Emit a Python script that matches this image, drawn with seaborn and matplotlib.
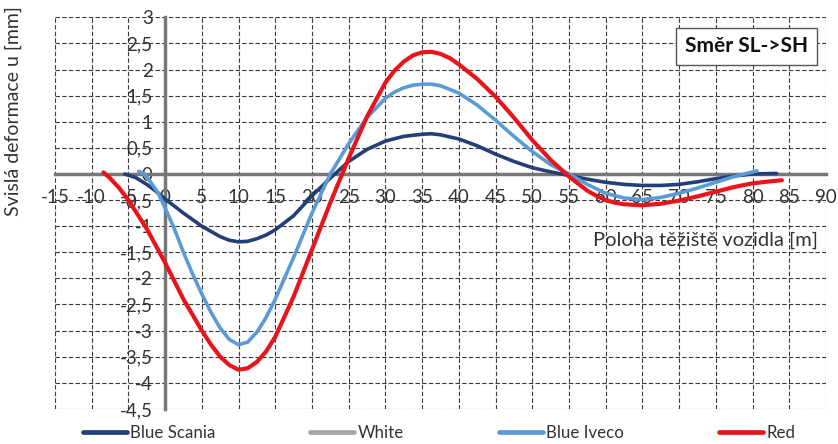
import numpy as np
import pandas as pd
import matplotlib
matplotlib.use("Agg")
import matplotlib.pyplot as plt
from matplotlib.lines import Line2D
from matplotlib.ticker import FuncFormatter
import seaborn as sns

# Values
scania_x = [-5.5, -4, -2.5, -1.25, 0, 2.5, 5, 6.25, 7.5, 8.75, 10, 11.25, 12.5, 13.75, 15, 17.5, 20,
            22.5, 25, 27.5, 30, 32.5, 35, 36.25, 37.5, 40, 42.5, 45, 47.5, 50, 52.5, 55, 57.5,
            60, 62.5, 65, 67.5, 70, 72.5, 75, 77.5, 80, 83.3]
scania_y = [0.0, -0.07, -0.2, -0.33, -0.48, -0.75, -1.0, -1.1, -1.2, -1.27, -1.3, -1.29, -1.24,
            -1.17, -1.07, -0.8, -0.42, -0.08, 0.24, 0.47, 0.63, 0.72, 0.76, 0.77, 0.75, 0.67,
            0.54, 0.38, 0.24, 0.12, 0.04, -0.03, -0.1, -0.16, -0.2, -0.22, -0.22, -0.2, -0.15,
            -0.09, -0.04, 0.0, 0.01]

iveco_x = [-3.6, -2.8, -2, -1, 0, 1.25, 2.5, 3.75, 5, 6.25, 7.5, 8.75, 10, 11.25, 12.5, 13.75, 15,
           17.5, 20, 22.5, 25, 27.5, 30, 31.25, 32.5, 33.75, 35, 36.25, 37.5, 40, 42.5, 45, 47.5,
           50, 52.5, 55, 57.5, 60, 62.5, 65, 67.5, 70, 72.5, 75, 77.5, 80.6]
iveco_y = [0.05, 0.0, -0.15, -0.35, -0.65, -1.05, -1.5, -1.92, -2.3, -2.65, -2.95, -3.17, -3.27,
           -3.22, -3.03, -2.75, -2.4, -1.6, -0.75, 0.0, 0.58, 1.08, 1.45, 1.57, 1.65, 1.7, 1.72,
           1.72, 1.69, 1.55, 1.32, 1.03, 0.72, 0.43, 0.18, 0.0, -0.2, -0.37, -0.46, -0.49, -0.45,
           -0.37, -0.27, -0.16, -0.05, 0.06]

red_x = [-8.4, -7.5, -6.25, -5, -2.5, 0, 2.5, 5, 6.25, 7.5, 8.75, 10, 11.25, 12.5, 13.75, 15,
         17.5, 20, 22.5, 25, 27.5, 30, 31.25, 32.5, 33.75, 35, 36.25, 37.5, 38.75, 40, 42.5, 45,
         47.5, 50, 52.5, 55, 57.5, 58.75, 60, 61.25, 62.5, 65, 67.5, 70, 72.5, 75, 77.5, 80,
         82.5, 84]
red_y = [0.03, -0.08, -0.27, -0.5, -1.05, -1.7, -2.4, -3.0, -3.27, -3.5, -3.66, -3.75, -3.72,
         -3.6, -3.4, -3.12, -2.35, -1.45, -0.55, 0.3, 1.1, 1.75, 1.98, 2.15, 2.27, 2.33, 2.34,
         2.3, 2.22, 2.1, 1.82, 1.48, 1.08, 0.65, 0.27, -0.05, -0.32, -0.42, -0.5, -0.55, -0.58,
         -0.6, -0.57, -0.51, -0.43, -0.34, -0.25, -0.18, -0.14, -0.12]

series_names = ["Blue Scania", "White", "Blue Iveco", "Red"]
series_colors = ["#233f78", "#a5a5a5", "#5b9bd5", "#e8141b"]
series_widths = [2.6, 2.6, 2.6, 3.0]

x_ticks = np.arange(-15, 91, 5)
y_ticks = np.arange(-4.5, 3.01, 0.5)

df = pd.concat([
    pd.DataFrame({"x": scania_x, "y": scania_y, "serie": "Blue Scania"}),
    pd.DataFrame({"x": iveco_x, "y": iveco_y, "serie": "Blue Iveco"}),
    pd.DataFrame({"x": red_x, "y": red_y, "serie": "Red"}),
])

sns.set_theme(style="white")
plt.rcParams['font.family'] = ['Lato', 'DejaVu Sans']
plt.rcParams['axes.unicode_minus'] = False

fig = plt.figure(figsize=(8.38, 4.44), dpi=100)
ax = fig.add_axes([0.0656, 0.079, 0.92, 0.882])

palette = dict(zip(series_names, series_colors))
for name, lw in zip(series_names, series_widths):
    sub = df[df["serie"] == name]
    if len(sub) == 0:
        continue
    sns.lineplot(data=sub, x="x", y="y", color=palette[name], lw=lw, sort=False,
                 estimator=None, legend=False, ax=ax, zorder=3,
                 solid_joinstyle="round", solid_capstyle="round")

ax.set_xlim(-15, 90)
ax.set_ylim(-4.5, 3)
ax.set_xticks(x_ticks)
ax.set_yticks(y_ticks)

comma = FuncFormatter(lambda v, p: ("%g" % v).replace(".", ","))
ax.xaxis.set_major_formatter(comma)
ax.yaxis.set_major_formatter(comma)

# Dashed grid
ax.grid(True, color="#3a3a3a", lw=0.8, ls=(0, (4, 2)))

# Axes crossing at origin
for s in ["top", "right"]:
    ax.spines[s].set_visible(False)
ax.spines["left"].set_position(("data", 0))
ax.spines["bottom"].set_position(("data", 0))
for s in ["left", "bottom"]:
    ax.spines[s].set_color("#777777")
    ax.spines[s].set_linewidth(2.5)
    ax.spines[s].set_zorder(2)
ax.tick_params(axis="both", direction="inout", length=8, width=2, color="#777777",
               labelsize=13.5, labelcolor="#333333")
ax.tick_params(axis="x", pad=7)
ax.tick_params(axis="y", pad=5)

ax.set_xlabel("")
ax.set_ylabel("Svislá deformace u [mm]", fontsize=14, color="#333333")
ax.yaxis.set_label_coords(-0.043, 0.76)
ax.text(0.99, 0.43, "Poloha těžiště vozidla [m]", transform=ax.transAxes, ha="right",
        va="center", fontsize=14.5, color="#333333")

ax.text(0.897, 0.926, "Směr SL->SH", transform=ax.transAxes, ha="center", va="center",
        fontsize=15, fontweight="bold", color="#111111", zorder=5,
        bbox=dict(boxstyle="square,pad=0.42", fc="white", ec="#555555", lw=1))

handles = [Line2D([], [], color=c, lw=3.4) for c in series_colors]
fig.legend(handles, series_names, loc="lower center", bbox_to_anchor=(0.524, -0.028),
           ncol=4, frameon=False, fontsize=12.2, handlelength=2.6, handletextpad=0.2,
           columnspacing=5.6, labelcolor="#333333")

fig.savefig("out.png", dpi=100)
